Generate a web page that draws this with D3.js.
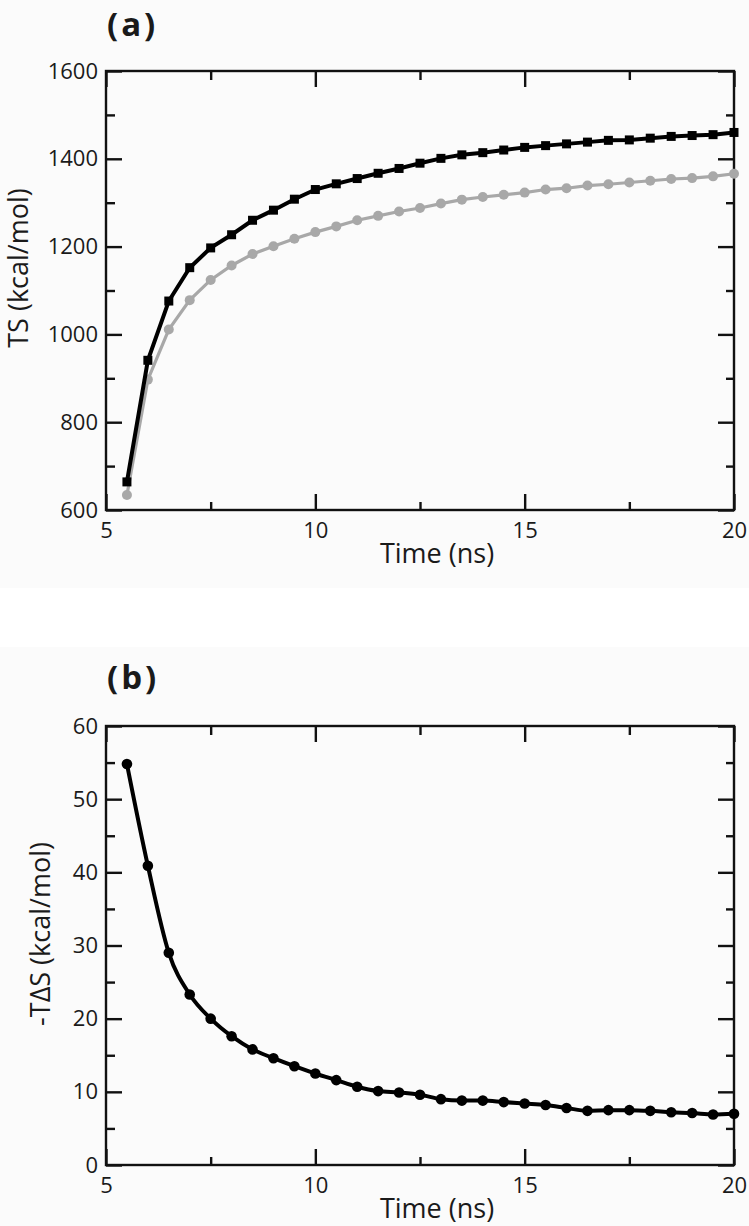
<!DOCTYPE html>
<html>
<head>
<meta charset="utf-8">
<script src="https://cdn.jsdelivr.net/npm/d3@7"></script>
<style>
  html, body { margin: 0; padding: 0; background: #ffffff; }
  svg { display: block; }
  text { font-family: "Open Sans", "Noto Sans", sans-serif; fill: #1a1a1a; }
</style>
</head>
<body>
<script>
// ---------------- data ----------------
const time = [5.5, 6, 6.5, 7, 7.5, 8, 8.5, 9, 9.5, 10, 10.5, 11, 11.5, 12, 12.5,
              13, 13.5, 14, 14.5, 15, 15.5, 16, 16.5, 17, 17.5, 18, 18.5, 19, 19.5, 20];
const tsBlack = [664, 941, 1076, 1152, 1197, 1227, 1260, 1283, 1308, 1330, 1343, 1355, 1367, 1378, 1390,
                 1401, 1409, 1414, 1420, 1426, 1430, 1434, 1438, 1442, 1443, 1447, 1451, 1453, 1455, 1460];
const tsGrey  = [634, 897, 1011, 1078, 1124, 1157, 1183, 1201, 1218, 1233, 1246, 1260, 1270, 1280, 1288,
                 1298, 1307, 1313, 1318, 1323, 1330, 1333, 1339, 1342, 1346, 1350, 1354, 1356, 1360, 1366];
const minusTdS = [54.8, 40.9, 29.0, 23.3, 20.0, 17.6, 15.8, 14.6, 13.5, 12.5, 11.6, 10.7, 10.1, 9.9, 9.6,
                  9.0, 8.8, 8.8, 8.6, 8.4, 8.2, 7.8, 7.4, 7.5, 7.5, 7.4, 7.2, 7.1, 6.9, 7.0];
const xMajor = [5, 10, 15, 20];
const xMinor = [7.5, 12.5, 17.5];
const yMajorA = [600, 800, 1000, 1200, 1400, 1600];
const yMinorA = [700, 900, 1100, 1300, 1500];
const yMajorB = [0, 10, 20, 30, 40, 50, 60];
const yMinorB = [5, 15, 25, 35, 45, 55];

// ---------------- layout ----------------
const W = 749, H = 1226;
const svg = d3.select("body").append("svg").attr("width", W).attr("height", H);

svg.append("rect").attr("x", 0).attr("y", 0).attr("width", W).attr("height", 588).attr("fill", "#fbfbfb");
svg.append("rect").attr("x", 0).attr("y", 647).attr("width", W).attr("height", H - 647).attr("fill", "#fbfbfb");

function panel(cfg) {
  const x = d3.scaleLinear().domain([5, 20]).range([cfg.left, cfg.right]);
  const y = d3.scaleLinear().domain(cfg.yDomain).range([cfg.bottom, cfg.top]);
  const g = svg.append("g");

  const axisStyle = sel => {
    sel.select(".domain").remove();
    sel.selectAll(".tick line").attr("stroke", "#111").attr("stroke-width", 2.4);
    sel.selectAll(".tick text").attr("font-family", '"Open Sans", sans-serif')
       .attr("font-size", 22).attr("fill", "#1a1a1a");
  };

  // bottom
  g.append("g").attr("transform", `translate(0,${cfg.bottom})`)
    .call(d3.axisBottom(x).tickValues(xMajor).tickSize(-16).tickPadding(12).tickFormat(d3.format("d")))
    .call(axisStyle);
  g.append("g").attr("transform", `translate(0,${cfg.bottom})`)
    .call(d3.axisBottom(x).tickValues(xMinor).tickSize(-8).tickFormat(""))
    .call(axisStyle);
  // top
  g.append("g").attr("transform", `translate(0,${cfg.top})`)
    .call(d3.axisTop(x).tickValues(xMajor).tickSize(-16).tickFormat(""))
    .call(axisStyle);
  g.append("g").attr("transform", `translate(0,${cfg.top})`)
    .call(d3.axisTop(x).tickValues(xMinor).tickSize(-9).tickFormat(""))
    .call(axisStyle);
  // left
  g.append("g").attr("transform", `translate(${cfg.left},0)`)
    .call(d3.axisLeft(y).tickValues(cfg.yMajor).tickSize(-16).tickPadding(8).tickFormat(d3.format("d")))
    .call(axisStyle);
  g.append("g").attr("transform", `translate(${cfg.left},0)`)
    .call(d3.axisLeft(y).tickValues(cfg.yMinor).tickSize(-9).tickFormat(""))
    .call(axisStyle);
  // right
  g.append("g").attr("transform", `translate(${cfg.right},0)`)
    .call(d3.axisRight(y).tickValues(cfg.yMajor).tickSize(-16).tickFormat(""))
    .call(axisStyle);
  g.append("g").attr("transform", `translate(${cfg.right},0)`)
    .call(d3.axisRight(y).tickValues(cfg.yMinor).tickSize(-8).tickFormat(""))
    .call(axisStyle);

  // frame
  g.append("rect").attr("x", cfg.left).attr("y", cfg.top)
    .attr("width", cfg.right - cfg.left).attr("height", cfg.bottom - cfg.top)
    .attr("fill", "none").attr("stroke", "#111").attr("stroke-width", 2.4);

  // labels
  g.append("text").attr("x", 437).attr("y", cfg.bottom + 53)
    .attr("text-anchor", "middle").attr("font-size", 27).text("Time (ns)");
  g.append("text").attr("transform", `translate(${cfg.yLabelX},${cfg.yLabelY}) rotate(-90)`)
    .attr("text-anchor", "middle").attr("font-size", 27).text(cfg.yLabel);
  g.append("text").attr("x", 107).attr("y", cfg.titleY)
    .attr("font-size", 33).attr("font-weight", "bold").attr("letter-spacing", 3)
    .attr("fill", "#111").text(cfg.title);

  return { x, y, g };
}

// ---------------- panel (a) ----------------
const A = panel({
  left: 106, right: 734, top: 71, bottom: 510,
  yDomain: [600, 1600], yMajor: yMajorA, yMinor: yMinorA,
  yLabel: "TS (kcal/mol)", yLabelX: 28, yLabelY: 268,
  title: "(a)", titleY: 36
});

const lineA = d3.line().x(d => A.x(d[0])).y(d => A.y(d[1]));
const greyPts = time.map((t, i) => [t, tsGrey[i]]);
const blackPts = time.map((t, i) => [t, tsBlack[i]]);

A.g.append("path").datum(greyPts).attr("d", lineA)
  .attr("fill", "none").attr("stroke", "#a8a8a8").attr("stroke-width", 3.2);
A.g.selectAll("circle.grey").data(greyPts).enter().append("circle")
  .attr("cx", d => A.x(d[0])).attr("cy", d => A.y(d[1])).attr("r", 5)
  .attr("fill", "#a8a8a8");

A.g.append("path").datum(blackPts).attr("d", lineA)
  .attr("fill", "none").attr("stroke", "#000").attr("stroke-width", 4);
A.g.selectAll("rect.blk").data(blackPts).enter().append("rect")
  .attr("x", d => A.x(d[0]) - 4.5).attr("y", d => A.y(d[1]) - 4.5)
  .attr("width", 9).attr("height", 9).attr("fill", "#000");

// ---------------- panel (b) ----------------
const B = panel({
  left: 106, right: 734, top: 726, bottom: 1165,
  yDomain: [0, 60], yMajor: yMajorB, yMinor: yMinorB,
  yLabel: "-TΔS (kcal/mol)", yLabelX: 50, yLabelY: 934,
  title: "(b)", titleY: 689
});

const bPts = time.map((t, i) => [t, minusTdS[i]]);
const lineB = d3.line().x(d => B.x(d[0])).y(d => B.y(d[1])).curve(d3.curveMonotoneX);
B.g.append("path").datum(bPts).attr("d", lineB)
  .attr("fill", "none").attr("stroke", "#000").attr("stroke-width", 4);
B.g.selectAll("circle.b").data(bPts).enter().append("circle")
  .attr("cx", d => B.x(d[0])).attr("cy", d => B.y(d[1])).attr("r", 5.3)
  .attr("fill", "#000");
</script>
</body>
</html>
